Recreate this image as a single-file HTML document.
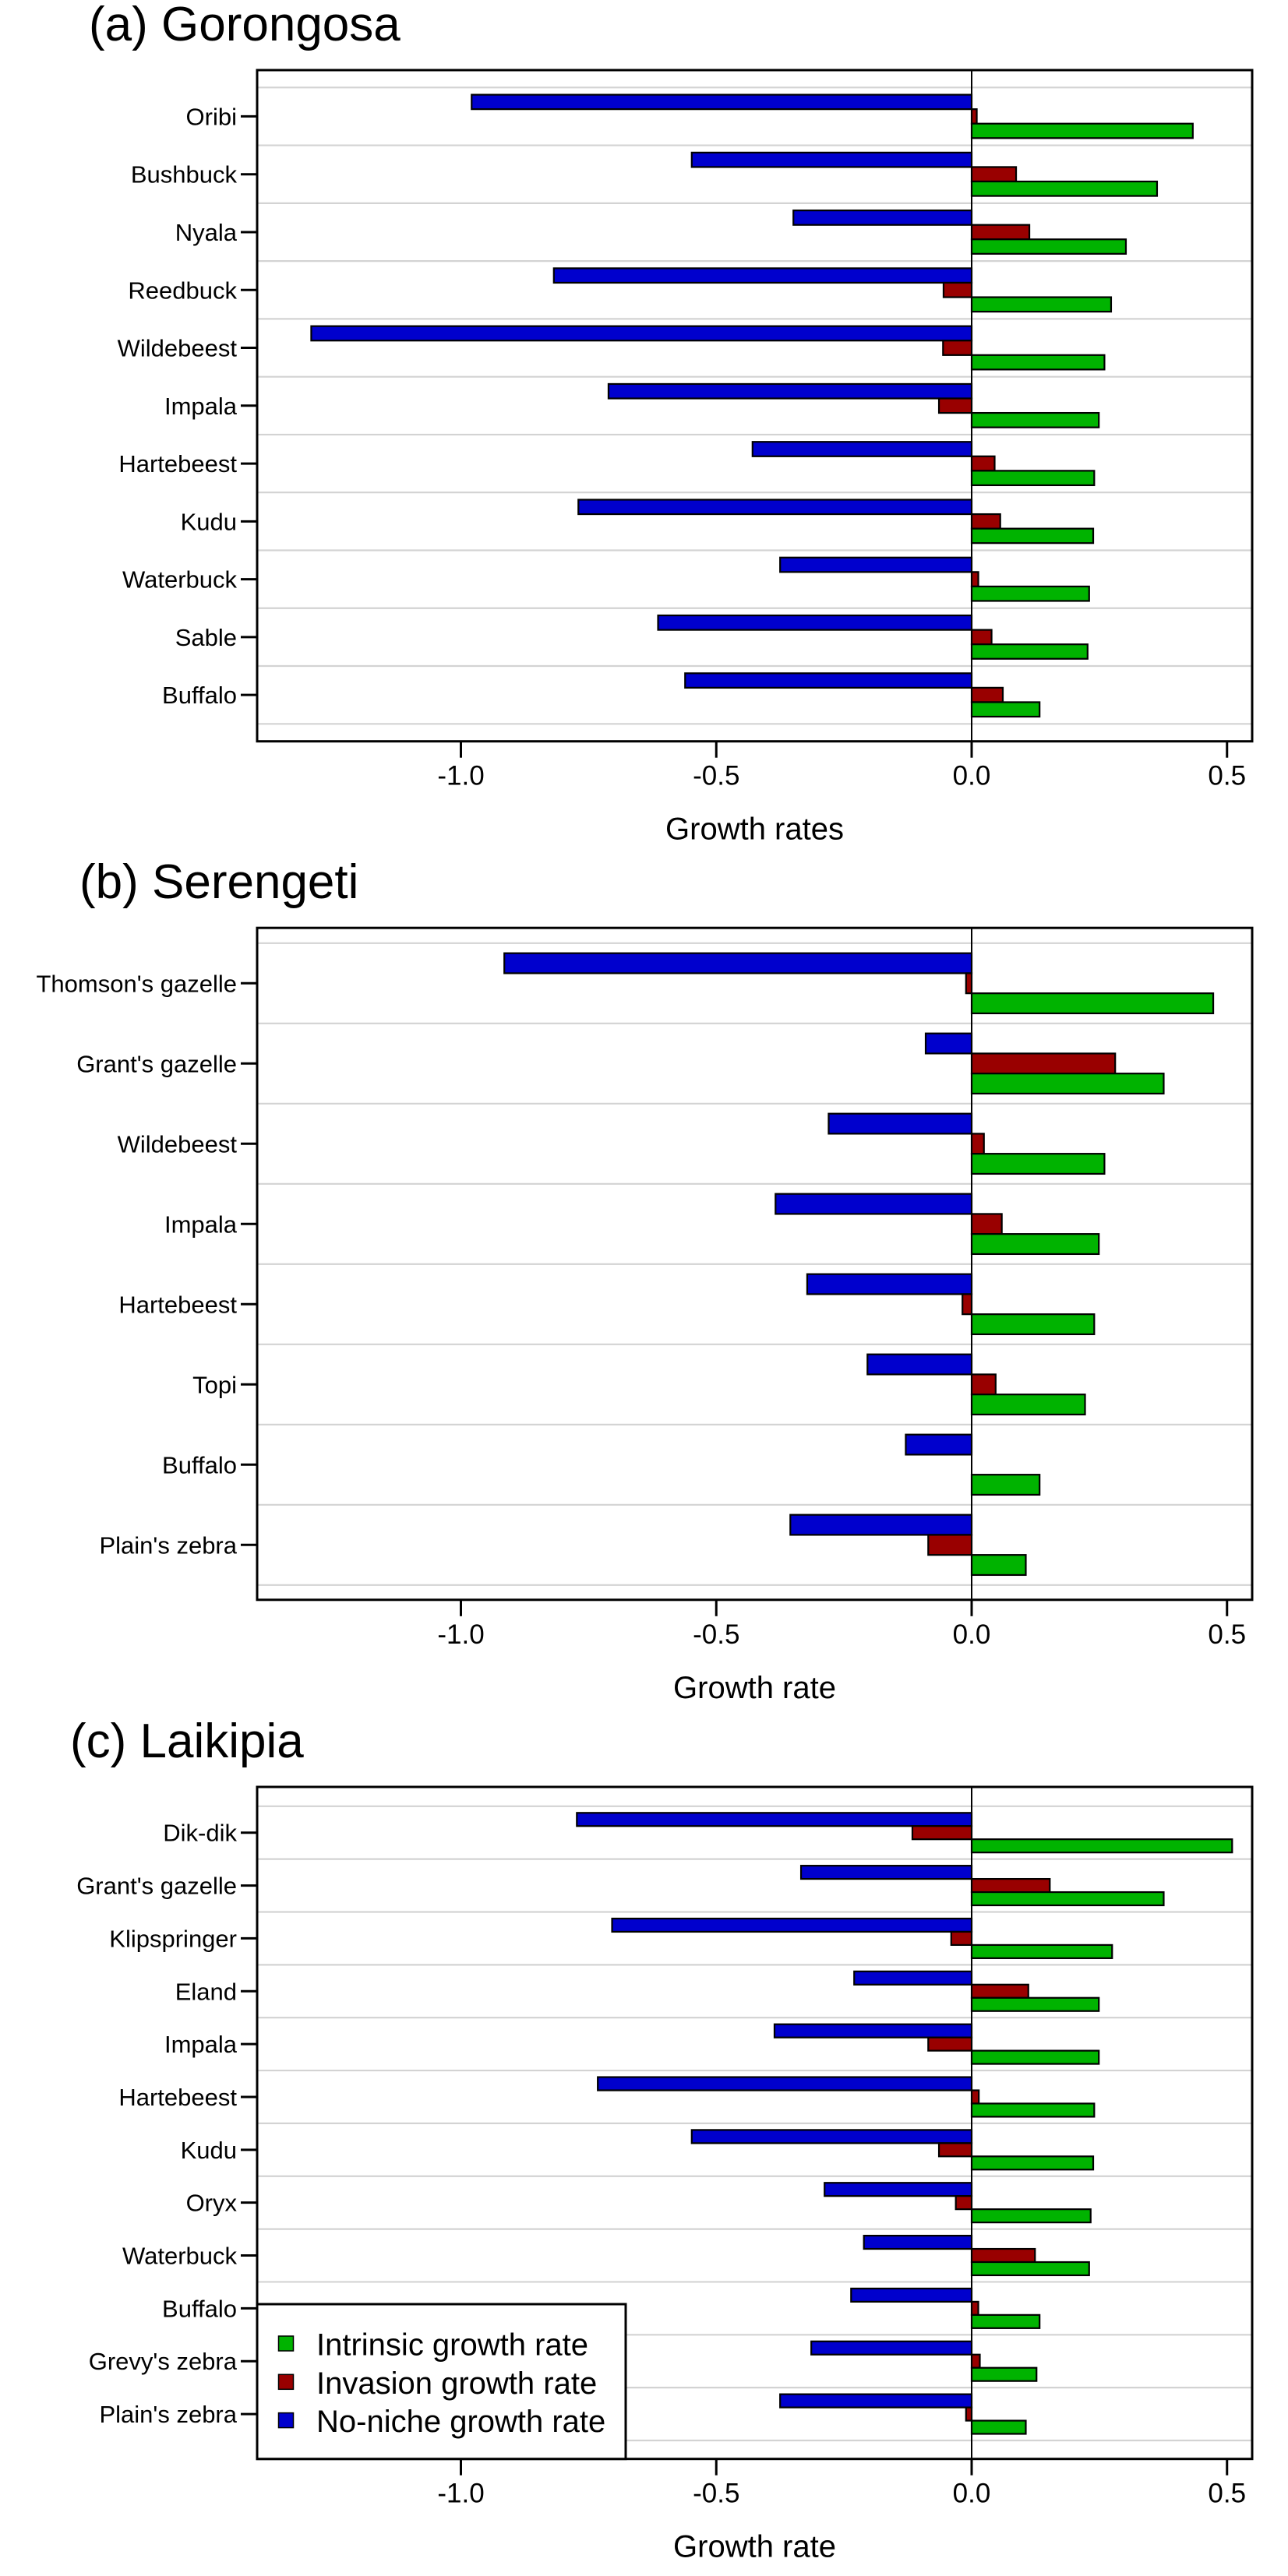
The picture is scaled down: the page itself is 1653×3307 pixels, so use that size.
<!DOCTYPE html>
<html>
<head>
<meta charset="utf-8">
<style>
  html,body{margin:0;padding:0;background:#fff;}
  svg{display:block;}
  text{font-family:"Liberation Sans",Arial,sans-serif;fill:#000;}
</style>
</head>
<body>
<svg id="chart" width="1653" height="3307" viewBox="0 0 1653 3307" xmlns="http://www.w3.org/2000/svg"></svg>
<script>
// ---- Data ----
const goroCategories = ["Oribi","Bushbuck","Nyala","Reedbuck","Wildebeest","Impala","Hartebeest","Kudu","Waterbuck","Sable","Buffalo"];
const goroNoNiche   = [-0.979,-0.548,-0.349,-0.818,-1.293,-0.711,-0.429,-0.770,-0.375,-0.614,-0.561];
const goroInvasion  = [0.010,0.087,0.113,-0.055,-0.056,-0.064,0.045,0.056,0.013,0.039,0.061];
const goroIntrinsic = [0.433,0.363,0.302,0.273,0.260,0.249,0.240,0.238,0.230,0.227,0.133];

const serCategories = ["Thomson's gazelle","Grant's gazelle","Wildebeest","Impala","Hartebeest","Topi","Buffalo","Plain's zebra"];
const serNoNiche   = [-0.915,-0.090,-0.280,-0.384,-0.322,-0.204,-0.129,-0.355];
const serInvasion  = [-0.011,0.281,0.024,0.059,-0.018,0.047,0.000,-0.085];
const serIntrinsic = [0.473,0.376,0.260,0.249,0.240,0.222,0.133,0.106];

const laiCategories = ["Dik-dik","Grant's gazelle","Klipspringer","Eland","Impala","Hartebeest","Kudu","Oryx","Waterbuck","Buffalo","Grevy's zebra","Plain's zebra"];
const laiNoNiche   = [-0.773,-0.334,-0.704,-0.230,-0.386,-0.732,-0.548,-0.288,-0.211,-0.236,-0.314,-0.375];
const laiInvasion  = [-0.116,0.153,-0.040,0.111,-0.085,0.014,-0.064,-0.031,0.124,0.013,0.016,-0.011];
const laiIntrinsic = [0.510,0.376,0.275,0.249,0.249,0.240,0.238,0.233,0.230,0.133,0.127,0.106];

const xTickValues = [-1.0,-0.5,0.0,0.5];
const xTickLabels = ["-1.0","-0.5","0.0","0.5"];
const legendLabels = ["Intrinsic growth rate","Invasion growth rate","No-niche growth rate"];

// ---- Rendering ----
const NS = "http://www.w3.org/2000/svg";
const svg = document.getElementById("chart");
const COL_BLUE = "#0000cd", COL_RED = "#990000", COL_GREEN = "#00b300";
const X_LEFT = 330, X_RIGHT = 1607, X_ZERO = 1247, X_UNIT = 655.5;
function xScale(v){ return X_ZERO + v * X_UNIT; }

function mk(tag, attrs, parent){
  const e = document.createElementNS(NS, tag);
  for (const k in attrs) e.setAttribute(k, attrs[k]);
  (parent || svg).appendChild(e);
  return e;
}

function drawPanel(p){
  const g = mk("g", {});
  
  
  const n = p.cats.length;
  const cell = (p.gridBottom - p.gridTop) / n;
  function yCell(i){ return p.gridTop + i * cell; }

  const title = mk("text", {x: p.titleX, y: p.titleY, "font-size": 62}, g);
  title.textContent = p.title;
  
  

  // gridlines
  for (let i = 0; i <= n; i++){
    const gl = mk("line", {x1: X_LEFT, x2: X_RIGHT, y1: yCell(i), y2: yCell(i), stroke: "#d3d3d3", "stroke-width": 2.2}, g);
    
    
  }
  // zero line
  const zl = mk("line", {x1: xScale(0), x2: xScale(0), y1: p.boxTop, y2: p.boxBottom, stroke: "#000", "stroke-width": 2}, g);
  
  

  // bars
  const series = [[p.noniche, COL_BLUE, 'no-niche-bar'], [p.invasion, COL_RED, 'invasion-bar'], [p.intrinsic, COL_GREEN, 'intrinsic-bar']];
  const bh = cell * 0.25;
  for (let i = 0; i < n; i++){
    series.forEach((s, k) => {
      const v = s[0][i];
      if (v === 0) return;
      const x0 = xScale(Math.min(0, v)), x1 = xScale(Math.max(0, v));
      const y = yCell(i) + cell * 0.125 + k * bh;
      const r = mk("rect", {x: x0, y: y, width: Math.max(0.5, x1 - x0), height: bh, fill: s[1], stroke: "#000", "stroke-width": 2.2}, g);
      
      
    });
    const cy = yCell(i) + cell / 2;
    const tk = mk("line", {x1: 309, x2: X_LEFT, y1: cy, y2: cy, stroke: "#000", "stroke-width": 3}, g);
    
    
    const lb = mk("text", {x: 304, y: cy + 11, "font-size": 31, "text-anchor": "end"}, g);
    lb.textContent = p.cats[i];
    
    
  }

  // frame
  const fr = mk("rect", {x: X_LEFT, y: p.boxTop, width: X_RIGHT - X_LEFT, height: p.boxBottom - p.boxTop, fill: "none", stroke: "#000", "stroke-width": 3}, g);
  
  

  // x ticks
  xTickValues.forEach((v, i) => {
    const x = xScale(v);
    const t = mk("line", {x1: x, x2: x, y1: p.boxBottom, y2: p.boxBottom + 21, stroke: "#000", "stroke-width": 3}, g);
    
    
    const tl = mk("text", {x: x, y: p.boxBottom + 56, "font-size": 35, "text-anchor": "middle"}, g);
    tl.textContent = xTickLabels[i];
    
    
  });
  const at = mk("text", {x: (X_LEFT + X_RIGHT) / 2, y: p.boxBottom + 126, "font-size": 40, "text-anchor": "middle"}, g);
  at.textContent = p.xTitle;
  
  
  return g;
}

drawPanel({name: 'panel-gorongosa', title: "(a) Gorongosa", titleX: 114, titleY: 52,
  cats: goroCategories, noniche: goroNoNiche, invasion: goroInvasion, intrinsic: goroIntrinsic,
  boxTop: 90, boxBottom: 951.7, gridTop: 112.3, gridBottom: 929.3, xTitle: "Growth rates"});

drawPanel({name: 'panel-serengeti', title: "(b) Serengeti", titleX: 102, titleY: 1153,
  cats: serCategories, noniche: serNoNiche, invasion: serInvasion, intrinsic: serIntrinsic,
  boxTop: 1191.2, boxBottom: 2053.8, gridTop: 1210.8, gridBottom: 2034.8, xTitle: "Growth rate"});

drawPanel({name: 'panel-laikipia', title: "(c) Laikipia", titleX: 90, titleY: 2256,
  cats: laiCategories, noniche: laiNoNiche, invasion: laiInvasion, intrinsic: laiIntrinsic,
  boxTop: 2294, boxBottom: 3156.7, gridTop: 2318.8, gridBottom: 3133, xTitle: "Growth rate"});

// legend
const lg = mk("g", {});


const lbox = mk("rect", {x: X_LEFT, y: 2958, width: 803 - X_LEFT, height: 3156.7 - 2958, fill: "#fff", stroke: "#000", "stroke-width": 3}, lg);


const legendColors = [COL_GREEN, COL_RED, COL_BLUE];
legendLabels.forEach((t, i) => {
  const y = 2999 + i * 49.3;
  const sw = mk("rect", {x: 357.5, y: y, width: 19, height: 19, fill: legendColors[i], stroke: "#000", "stroke-width": 1.5}, lg);
  
  
  const tx = mk("text", {x: 406, y: y + 24.5, "font-size": 40}, lg);
  tx.textContent = t;
  
  
});
</script>
</body>
</html>
